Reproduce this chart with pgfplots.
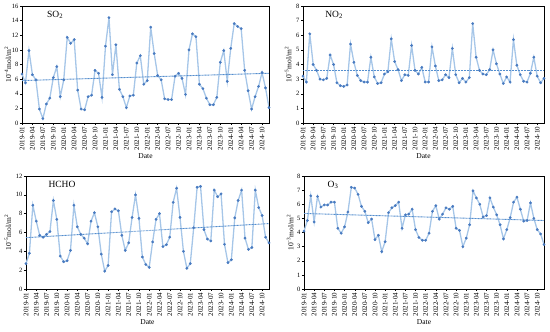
\documentclass[border=0pt]{standalone}
\usepackage{fontspec}
\setmainfont{Liberation Serif}
\usepackage{pgfplots}
\pgfplotsset{compat=1.18}
\usepackage{pgfplotstable}

\definecolor{lineblue}{RGB}{166,198,232}
\definecolor{markblue}{RGB}{72,122,192}
\definecolor{trendblue}{RGB}{84,142,206}

\pgfplotstableread{
v
6.7
5.5
9.9
6.6
5.9
1.9
0.6
2.6
3.4
6.2
7.7
3.6
5.9
11.7
10.9
11.4
4.5
1.9
1.8
3.6
3.8
7.2
6.8
3.5
10.5
14.4
6.6
10.7
4.6
3.6
2.1
3.7
3.8
8.2
9.2
5.3
5.8
13.1
9.5
6.5
5.9
3.3
3.2
3.2
6.4
6.8
6.1
3.9
10.0
12.2
11.8
5.3
4.7
3.4
2.5
2.5
3.5
8.3
9.9
5.7
10.2
13.6
13.2
12.9
7.2
4.4
1.9
3.6
5.0
6.9
4.8
2.1
}\soTwo

\pgfplotstableread{
v
3.2
2.8
6.1
4.0
3.6
3.0
2.95
3.05
4.65
4.0
2.75
2.55
2.5
2.6
5.4
4.15
3.25
2.9
2.8
2.8
4.5
3.15
2.7
2.75
3.35
3.5
5.75
4.2
3.65
2.9
3.3
3.25
5.3
3.6
3.35
3.8
2.8
2.8
5.2
3.9
2.9
2.95
3.3
3.1
5.1
3.3
2.75
3.05
2.8
3.1
6.8
4.5
3.6
3.35
3.3
3.65
5.0
4.05
3.35
2.7
3.15
2.8
5.7
3.95
3.3
2.85
2.8
3.4
4.5
3.2
2.75
3.05
}\noTwo

\pgfplotstableread{
v
2.7
3.8
8.9
7.2
5.7
5.5
5.8
6.1
9.4
7.4
3.5
2.9
3.0
4.1
8.9
6.6
5.8
5.4
4.8
7.2
8.1
6.6
3.7
1.9
2.5
8.2
8.5
8.3
5.7
4.1
4.9
7.6
10.0
7.5
3.4
2.6
2.3
5.0
7.4
8.0
4.5
4.7
5.5
9.2
10.7
7.6
4.0
2.2
2.7
6.5
10.8
10.9
6.3
5.3
5.1
10.5
9.8
10.1
4.75
2.8
3.1
7.55
9.4
10.5
5.4
4.2
4.4
10.5
8.65
7.8
5.5
4.9
}\hcho

\pgfplotstableread{
v
4.1
4.85
6.6
4.75
6.55
5.8
5.95
5.95
6.15
6.15
4.3
3.95
4.4
5.45
7.2
7.15
6.7
5.85
5.5
4.7
4.95
3.5
3.8
2.65
3.35
5.4
5.75
5.9
6.15
4.3
5.25
5.3
5.65
4.2
3.65
3.45
3.45
3.95
5.5
5.9
4.95
5.3
5.75
5.65
5.85
4.3
4.15
3.0
3.6
4.55
6.95
6.45
6.0
5.1
5.2
6.45
5.8
5.25
4.55
3.55
4.2
5.05
6.15
6.5
5.65
4.8
4.85
6.1
5.0
4.2
3.9
3.15
}\oThree

\pgfplotsset{
  panel/.style={
    scale only axis, anchor=south west,
    xmin=0, xmax=71,
    xtick={0,3,...,69},
    xticklabels={2019-01,2019-04,2019-07,2019-10,2020-01,2020-04,2020-07,2020-10,2021-01,2021-04,2021-07,2021-10,2022-01,2022-04,2022-07,2022-10,2023-01,2023-04,2023-07,2023-10,2024-01,2024-04,2024-07,2024-10},
    x tick label style={rotate=90, anchor=east, font=\fontsize{7}{7}\selectfont, inner sep=1.5pt},
    y tick label style={font=\fontsize{6.5}{7}\selectfont, inner sep=1.5pt},
    /pgf/number format/assume math mode=true,
    tick align=outside, major tick length=2pt,
    xtick pos=bottom, ytick pos=left,
    axis line style={black, line width=0.5pt},
    tick style={black, line width=0.4pt},
    xlabel={Date},
    xlabel style={font=\fontsize{7.5}{8}\selectfont, at={(axis description cs:0.5,0)}, anchor=center, yshift=-33pt},
    ymin=0,
  },
  series/.style={color=lineblue, line width=1.3pt, mark=*, mark size=1.25pt,
    mark options={fill=markblue, draw=markblue, line width=0.3pt}},
  trend/.style={color=trendblue, line width=0.9pt, dash pattern=on 0.9pt off 0.6pt, no marks},
}

\begin{document}
\begin{tikzpicture}
\useasboundingbox (0,0) rectangle (550pt,332pt);

% SO2
\begin{axis}[panel, at={(22pt,209pt)}, width=247pt, height=117pt,
  ymax=16, ytick={0,2,...,16},
  ylabel={10\textsuperscript{−4}mol/m\textsuperscript{2}},
  ylabel style={font=\fontsize{7.5}{8}\selectfont, at={(axis description cs:-0.057,0.5)}, anchor=center}]
  \addplot[series] table[x expr=\coordindex, y=v] {\soTwo};
  \addplot[trend] coordinates {(0,5.8) (71,6.8)};
  \node[font=\fontsize{9.5}{10}\selectfont] at (axis description cs:0.134,0.923) {SO\textsubscript{2}};
\end{axis}

% NO2
\begin{axis}[panel, at={(303pt,209pt)}, width=241pt, height=117pt,
  ymax=8, ytick={0,1,...,8},
  ylabel={10\textsuperscript{−5}mol/m\textsuperscript{2}},
  ylabel style={font=\fontsize{7.5}{8}\selectfont, at={(axis description cs:-0.062,0.5)}, anchor=center}]
  \addplot[series] table[x expr=\coordindex, y=v] {\noTwo};
  \addplot[trend] coordinates {(0,3.56) (71,3.56)};
  \node[font=\fontsize{9.5}{10}\selectfont] at (axis description cs:0.129,0.923) {NO\textsubscript{2}};
\end{axis}

% HCHO
\begin{axis}[panel, at={(26pt,43pt)}, width=243pt, height=113pt,
  ymax=12, ytick={0,2,...,12},
  ylabel={10\textsuperscript{−5}mol/m\textsuperscript{2}},
  ylabel style={font=\fontsize{7.5}{8}\selectfont, at={(axis description cs:-0.074,0.5)}, anchor=center}]
  \addplot[series] table[x expr=\coordindex, y=v] {\hcho};
  \addplot[trend] coordinates {(0,5.45) (71,6.95)};
  \node[font=\fontsize{9.5}{10}\selectfont] at (axis description cs:0.148,0.929) {HCHO};
\end{axis}

% O3
\begin{axis}[panel, at={(304pt,43pt)}, width=240pt, height=113pt,
  ymax=8, ytick={0,1,...,8},
  ylabel={10\textsuperscript{−3}mol/m\textsuperscript{2}},
  ylabel style={font=\fontsize{7.5}{8}\selectfont, at={(axis description cs:-0.058,0.5)}, anchor=center}]
  \addplot[series] table[x expr=\coordindex, y=v] {\oThree};
  \addplot[trend] coordinates {(0,5.35) (71,4.85)};
  \node[font=\fontsize{9.5}{10}\selectfont] at (axis description cs:0.121,0.92) {O\textsubscript{3}};
\end{axis}
\end{tikzpicture}
\end{document}
